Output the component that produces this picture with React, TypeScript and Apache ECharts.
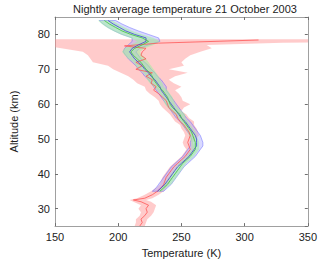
import React, { useEffect, useRef } from "react";
import * as echarts from "echarts";

const TITLE = "Nightly average temperature 21 October 2003";
const X_TICKS = [150, 200, 250, 300, 350];
const Y_TICKS = [30, 40, 50, 60, 70, 80];

// Red profile (altitude km -> temperature K)
const redAlt = [25, 26, 27, 28, 29, 30, 31, 32, 32.5, 33, 34, 35, 36, 37, 38, 39, 40, 41, 42, 43, 44, 45, 46, 47, 48, 49, 50, 51, 52, 53, 54, 55, 56, 57, 58, 59, 60, 61, 62, 63, 64, 65, 66, 67, 68, 69, 70, 71, 72, 73, 74, 75, 76, 76.7, 77.5, 78.4];
const redT = [217, 219, 218, 221, 223, 222, 224, 218, 212, 221, 227, 231, 234, 236, 237, 238, 240, 242, 244, 247, 250, 253, 255, 257, 256, 255, 256, 257, 256, 254, 252, 249, 247, 246, 243, 240, 239, 238, 235, 232, 228, 230, 226, 227, 222, 227, 214, 219, 214, 222, 218, 219, 222, 205, 232, 311];
const redBandAlt = [25, 26, 27, 28, 29, 30, 31, 32, 32.5, 33, 34, 35, 36, 37, 38, 39, 40, 41, 42, 43, 44, 45, 46, 47, 48, 49, 50, 51, 52, 53, 54, 55, 56, 57, 58, 59, 60, 61, 62, 63, 64, 65, 66, 67, 68, 69, 70, 71, 72, 73, 74, 75, 76, 77, 77.6, 78.0, 78.4, 78.6];
const redLow = [213, 214, 214, 217, 218, 216, 218, 212, 209, 215, 221, 226, 230, 233, 234, 235, 237, 239, 241, 244, 247, 250, 252, 254, 252, 251, 252, 253, 252, 250, 249, 245, 243, 241, 238, 235, 233, 232, 229, 225, 222, 221, 215, 212, 208, 202, 196, 192, 180, 178, 176, 172, 155, 140, 130, 130, 130, 130];
const redHigh = [221, 222, 223, 226, 228, 229, 230, 226, 222, 227, 232, 236, 238, 240, 241, 242, 243, 245, 247, 250, 253, 256, 258, 260, 260, 259, 261, 264, 263, 262, 260, 260, 256, 254, 250, 252, 257, 251, 250, 248, 245, 250, 244, 240, 245, 255, 240, 252, 250, 253, 257, 265, 274, 270, 330, 400, 400, 400];

// Blue and green profiles
const bgAlt = [35, 36, 37, 38, 39, 40, 41, 42, 43, 44, 45, 46, 47, 48, 49, 50, 51, 52, 53, 54, 55, 56, 57, 58, 59, 60, 61, 62, 63, 64, 65, 66, 67, 68, 69, 70, 71, 72, 73, 74, 75, 76, 77, 78, 79, 80, 81, 82, 83, 84];
const blueT = [231, 234, 237, 239, 241, 243, 245, 247, 250, 253, 256, 258, 260, 262, 262, 262, 261, 259, 257, 255, 253, 250, 248, 246, 244, 242, 240, 238, 236, 234, 233, 231, 229, 226, 224, 221, 219, 216, 213, 211, 209, 211, 216, 222, 222, 213, 206, 201, 196, 192];
const blueLow = [227, 230, 232, 234, 236, 238, 240, 242, 245, 248, 251, 253, 255, 257, 257, 258, 257, 255, 253, 251, 249, 246, 244, 242, 240, 238, 236, 234, 232, 230, 228, 226, 224, 221, 219, 216, 214, 211, 208, 206, 204, 205, 208, 211, 211, 203, 197, 192, 188, 185];
const blueHigh = [236, 239, 242, 244, 246, 248, 250, 252, 255, 258, 261, 263, 265, 267, 267, 266, 265, 263, 261, 259, 257, 254, 252, 250, 248, 246, 244, 242, 240, 238, 238, 236, 234, 231, 229, 226, 224, 221, 218, 216, 214, 217, 224, 233, 232, 224, 216, 209, 203, 198];
const greenT = [233, 236, 239, 241, 243, 245, 247, 249, 251, 254, 257, 259, 261, 261, 261, 260, 259, 258, 256, 254, 252, 250, 249, 246, 243, 241, 240, 239, 237, 235, 232, 230, 228, 227, 225, 222, 220, 218, 215, 212, 210, 213, 219, 224, 219, 210, 203, 198, 193, 189];
const greenLow = [231, 234, 236, 238, 240, 242, 244, 246, 248, 251, 254, 256, 258, 258, 258, 257, 256, 255, 253, 251, 249, 247, 245, 242, 239, 237, 236, 235, 233, 231, 228, 225, 223, 222, 220, 216, 214, 212, 208, 205, 203, 205, 210, 215, 210, 202, 196, 191, 187, 184];
const greenHigh = [235, 238, 242, 244, 246, 248, 250, 252, 254, 257, 260, 262, 264, 264, 264, 263, 262, 261, 259, 257, 255, 253, 253, 250, 247, 245, 244, 243, 241, 239, 236, 235, 233, 232, 230, 228, 226, 224, 222, 219, 217, 221, 228, 233, 228, 219, 211, 205, 200, 195];

const FONT = "Liberation Sans, Arial, sans-serif";

function bandSeries(name: string, alts: number[], low: number[], high: number[], fill: string, stroke: string, lw: number) {
  return {
    type: "custom",
    name,
    coordinateSystem: "cartesian2d",
    clip: true,
    silent: true,
    data: alts.map((a, i) => [low[i], a, high[i]]),
    encode: { x: [0, 2], y: 1 },
    renderItem: (params: any, api: any) => {
      if (params.dataIndex !== 0) return null;
      const left = alts.map((a, i) => api.coord([low[i], a]));
      const right = alts.map((a, i) => api.coord([high[i], a])).reverse();
      return {
        type: "polygon",
        shape: { points: left.concat(right) },
        style: { fill, stroke: lw > 0 ? stroke : "none", lineWidth: lw },
      };
    },
  };
}

function lineSeries(name: string, alts: number[], temps: number[], color: string) {
  return {
    type: "line",
    name,
    data: alts.map((a, i) => [temps[i], a]),
    showSymbol: false,
    symbol: "none",
    clip: true,
    lineStyle: { color, width: 0.8 },
    itemStyle: { color },
  };
}

export default function App() {
  const ref = useRef<HTMLDivElement>(null);
  useEffect(() => {
    if (!ref.current) return;
    const chart = echarts.init(ref.current, undefined, { renderer: "svg" });
    const axisCommon = {
      axisLine: { show: true, lineStyle: { color: "#a0a0a0", width: 1 } },
      axisTick: { show: true, inside: true, length: 3, lineStyle: { color: "#707070" } },
      splitLine: { show: false },
    };
    chart.setOption({
      animation: false,
      title: {
        text: TITLE,
        left: 180,
        textAlign: "center",
        top: -2,
        textStyle: { fontFamily: FONT, fontSize: 11, fontWeight: "normal", color: "#222" },
      },
      grid: { left: 32, right: 12, top: 17, bottom: 29, containLabel: false },
      xAxis: [
        {
          type: "value",
          min: 150,
          max: 350,
          interval: 50,
          position: "bottom",
          name: "Temperature (K)",
          nameLocation: "middle",
          nameGap: 15,
          nameTextStyle: { fontFamily: FONT, fontSize: 11, color: "#222" },
          axisLabel: {
            fontFamily: FONT,
            fontSize: 11,
            color: "#222",
            margin: 5,
            formatter: (v: number) => (X_TICKS.includes(v) ? String(v) : ""),
          },
          ...axisCommon,
        },
        {
          type: "value",
          min: 150,
          max: 350,
          interval: 50,
          position: "top",
          axisLabel: { show: false },
          ...axisCommon,
        },
      ],
      yAxis: [
        {
          type: "value",
          min: 25,
          max: 85,
          position: "left",
          name: "Altitude (km)",
          nameLocation: "middle",
          nameGap: 36,
          nameTextStyle: { fontFamily: FONT, fontSize: 11, color: "#222" },
          axisLabel: {
            fontFamily: FONT,
            fontSize: 11,
            color: "#222",
            margin: 5,
            showMinLabel: false,
            showMaxLabel: false,
            formatter: (v: number) => (Y_TICKS.includes(v) ? String(v) : ""),
          },
          ...axisCommon,
        },
        {
          type: "value",
          min: 25,
          max: 85,
          position: "right",
          axisLabel: { show: false },
          ...axisCommon,
        },
      ],
      series: [
        bandSeries("redBand", redBandAlt, redLow, redHigh, "rgba(255,140,140,0.45)", "none", 0),
        bandSeries("blueBand", bgAlt, blueLow, blueHigh, "rgba(170,170,255,0.45)", "rgba(80,80,255,0.7)", 0.6),
        bandSeries("greenBand", bgAlt, greenLow, greenHigh, "rgba(160,240,160,0.55)", "none", 0),
        lineSeries("red", redAlt, redT, "#ff5555"),
        lineSeries("blue", bgAlt, blueT, "#4040d8"),
        lineSeries("green", bgAlt, greenT, "#40c040"),
      ],
    });
    return () => chart.dispose();
  }, []);
  return <div ref={ref} style={{ position: "absolute", left: 0, top: 0, width: 320, height: 263 }} />;
}
